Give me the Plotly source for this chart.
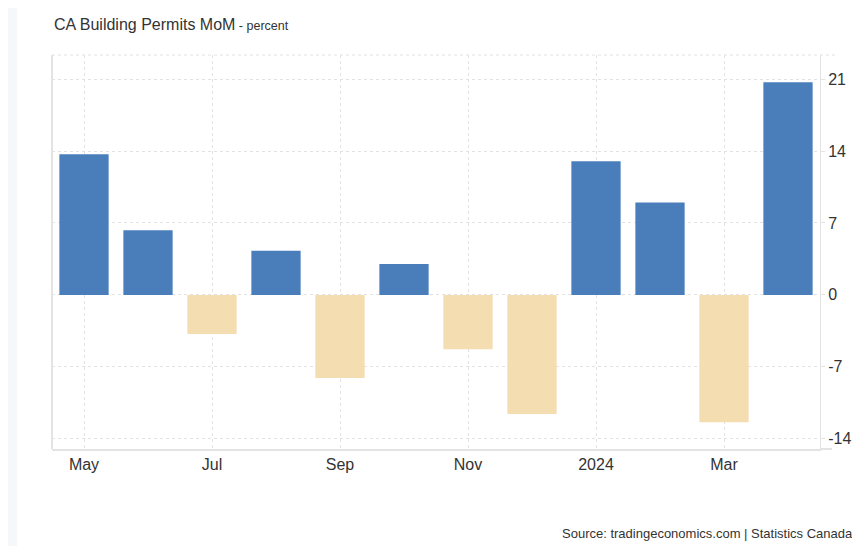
import plotly.graph_objs as go

months = ["2023-05", "2023-06", "2023-07", "2023-08", "2023-09", "2023-10",
          "2023-11", "2023-12", "2024-01", "2024-02", "2024-03", "2024-04"]
values = [13.7, 6.3, -3.8, 4.3, -8.1, 3.0, -5.3, -11.6, 13.0, 9.0, -12.4, 20.7]
tick_months = ["2023-05", "2023-07", "2023-09", "2023-11", "2024-01", "2024-03"]
tick_text = ["May", "Jul", "Sep", "Nov", "2024", "Mar"]
y_ticks = [-14, -7, 0, 7, 14, 21]

BLUE = "#4a7ebb"
TAN = "#f4ddb0"
GRID = "#e2e2e2"
AXIS = "#e3e3e3"
FONT = "Liberation Sans, Arial, sans-serif"

# page body has an 8px margin, so the figure is a bit smaller than the window
W, H = 852, 538
M = dict(l=44, r=40, t=47, b=97)
pw = W - M["l"] - M["r"]
ph = H - M["t"] - M["b"]

bars = go.Bar(
    x=months, y=values,
    marker=dict(color=[BLUE if v >= 0 else TAN for v in values], line=dict(width=0)),
    hoverinfo="x+y")

layout = go.Layout(
    width=W, height=H, margin=M,
    paper_bgcolor="white", plot_bgcolor="white",
    font=dict(family=FONT, color="#333333"),
    showlegend=False, bargap=0.23,
    xaxis=dict(
        type="category", tickvals=tick_months, ticktext=tick_text, automargin=False,
        showgrid=True, gridcolor=GRID, griddash="dot", gridwidth=1,
        showline=True, linecolor=AXIS, linewidth=2, mirror=False,
        ticks="", tickfont=dict(size=16, color="#333333"),
        range=[-0.5, 11.5], zeroline=False),
    yaxis=dict(
        side="right", tickvals=y_ticks, ticktext=[str(t) for t in y_ticks],
        range=[-15.0, 23.35], automargin=False,
        showgrid=True, gridcolor=GRID, griddash="dot", gridwidth=1,
        zeroline=False, showline=True, linecolor=AXIS, linewidth=1,
        ticks="outside", ticklen=4, tickcolor=GRID,
        tickfont=dict(size=16, color="#333333")),
    shapes=[
        # grey strip at the left edge of the page
        dict(type="rect", xref="paper", yref="paper", layer="below",
             x0=-M["l"] / pw, x1=-(M["l"] - 9) / pw,
             y0=-M["b"] / ph, y1=1 + M["t"] / ph,
             fillcolor="#f5f7fa", line=dict(width=0)),
        # left border of plot area
        dict(type="line", xref="paper", yref="paper", x0=0, x1=0, y0=0, y1=1,
             line=dict(color=AXIS, width=2)),
        # dotted top border, running past the plot to the labels
        dict(type="line", xref="paper", yref="paper", x0=0, x1=1 + 15 / pw, y0=1, y1=1,
             line=dict(color=GRID, width=1, dash="dot")),
        # bottom axis extension
        dict(type="line", xref="paper", yref="paper", x0=1, x1=1 + 12 / pw, y0=0, y1=0,
             line=dict(color=AXIS, width=2)),
    ],
    annotations=[
        dict(xref="paper", yref="paper", x=0, y=1 + 30 / ph, xanchor="left", yanchor="middle",
             showarrow=False,
             text="CA Building Permits MoM<span style='font-size:12.5px'> - percent</span>",
             font=dict(size=16, color="#333333", family=FONT)),
        dict(xref="paper", yref="paper", x=1 + 35 / pw, y=-84 / ph, xanchor="right", yanchor="middle",
             showarrow=False,
             text="Source: tradingeconomics.com | Statistics Canada",
             font=dict(size=13, color="#333333", family=FONT)),
    ])

fig = go.Figure(data=[bars], layout=layout)
fig.write_html("out.html")
